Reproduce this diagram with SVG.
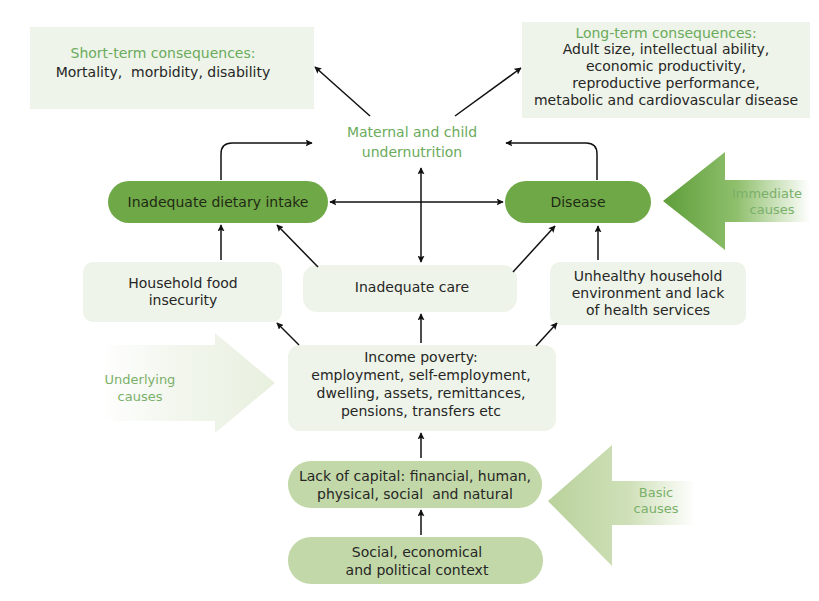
<svg xmlns="http://www.w3.org/2000/svg" width="819" height="601" viewBox="0 0 819 601">
<defs>
<marker id="ah" viewBox="0 0 10 10" refX="9" refY="5" markerWidth="7" markerHeight="7" orient="auto-start-reverse" markerUnits="userSpaceOnUse">
<path d="M0,0 L10,5 L0,10 L2,5 z" fill="#111"/>
</marker>
<linearGradient id="gImm" x1="0" y1="0" x2="1" y2="0">
<stop offset="0" stop-color="#5e9e3a"/>
<stop offset="0.5" stop-color="#8fbf6c"/>
<stop offset="1" stop-color="#ffffff"/>
</linearGradient>
<linearGradient id="gBasic" x1="0" y1="0" x2="1" y2="0">
<stop offset="0" stop-color="#b9d29c"/>
<stop offset="0.55" stop-color="#cfe0b8"/>
<stop offset="1" stop-color="#ffffff"/>
</linearGradient>
<linearGradient id="gUnder" x1="0" y1="0" x2="1" y2="0">
<stop offset="0" stop-color="#ffffff"/>
<stop offset="0.4" stop-color="#f3f7ef"/>
<stop offset="1" stop-color="#e8f0df"/>
</linearGradient>
</defs>
<style>
text{font-family:"DejaVu Sans","Liberation Sans",sans-serif;font-size:14px;text-anchor:middle;fill:#262626}
.g{fill:#6aab5c}
.gc{fill:#7ab06a;font-size:13px}
.pale{fill:#eef4e9}
.dark{fill:#6fa847}
.mid{fill:#c3d8a8}
.c{fill:none;stroke:#111;stroke-width:1.5;marker-end:url(#ah)}
.cb{fill:none;stroke:#111;stroke-width:1.5;marker-end:url(#ah);marker-start:url(#ah)}
.dt{fill:#1f2a14}
</style>
<rect width="819" height="601" fill="#ffffff"/>

<g id="short-term">
<rect class="pale" x="30" y="27" width="284" height="82"/>
<text class="g" x="163" y="58">Short-term consequences:</text>
<text x="163" y="77">Mortality,&#160; morbidity, disability</text>
</g>

<g id="long-term">
<rect class="pale" x="522" y="22" width="288" height="96"/>
<text class="g" x="666" y="38">Long-term consequences:</text>
<text x="666" y="54">Adult size, intellectual ability,</text>
<text x="666" y="71">economic productivity,</text>
<text x="666" y="88">reproductive performance,</text>
<text x="666" y="105">metabolic and cardiovascular disease</text>
</g>

<g id="undernutrition">
<text class="g" x="412" y="137">Maternal and child</text>
<text class="g" x="412" y="157">undernutrition</text>
</g>

<g id="dietary">
<rect class="dark" x="108" y="181" width="220" height="42" rx="21"/>
<text class="dt" x="218" y="207">Inadequate dietary intake</text>
</g>

<g id="disease">
<rect class="dark" x="505" y="181" width="146" height="42" rx="21"/>
<text class="dt" x="578" y="207">Disease</text>
</g>

<g id="immediate">
<path d="M663,201 L725,152 L725,180 L810,180 L810,222 L725,222 L725,250 Z" fill="url(#gImm)"/>
<text class="gc" x="767" y="198">Immediate</text>
<text class="gc" x="772" y="214">causes</text>
</g>

<g id="household">
<rect class="pale" x="83" y="262" width="199" height="60" rx="10"/>
<text x="183" y="288">Household food</text>
<text x="183" y="305">insecurity</text>
</g>

<g id="care">
<rect class="pale" x="303" y="265" width="214" height="47" rx="14"/>
<text x="412" y="292">Inadequate care</text>
</g>

<g id="environment">
<rect class="pale" x="550" y="262" width="196" height="63" rx="10"/>
<text x="648" y="281">Unhealthy household</text>
<text x="648" y="298">environment and lack</text>
<text x="648" y="315">of health services</text>
</g>

<g id="income">
<rect class="pale" x="288" y="345" width="268" height="86" rx="12"/>
<text x="421" y="362">Income poverty:</text>
<text x="421" y="380">employment, self-employment,</text>
<text x="421" y="398">dwelling, assets, remittances,</text>
<text x="421" y="416">pensions, transfers etc</text>
</g>

<g id="underlying">
<path d="M100,345 L215,345 L215,333 L275,383 L215,433 L215,421 L100,421 Z" fill="url(#gUnder)"/>
<text class="gc" x="140" y="384">Underlying</text>
<text class="gc" x="140" y="401">causes</text>
</g>

<g id="capital">
<rect class="mid" x="288" y="461" width="254" height="47" rx="23"/>
<text x="415" y="481">Lack of capital: financial, human,</text>
<text x="415" y="499">physical, social&#160; and natural</text>
</g>

<g id="context">
<rect class="mid" x="288" y="537" width="255" height="47" rx="23"/>
<text x="417" y="557">Social, economical</text>
<text x="417" y="575">and political context</text>
</g>

<g id="basic">
<path d="M548,501 L612,445 L612,481 L695,481 L695,525 L612,525 L612,566 Z" fill="url(#gBasic)"/>
<text class="gc" x="656" y="497">Basic</text>
<text class="gc" x="656" y="513">causes</text>
</g>

<g id="connectors">
<line class="c" x1="370" y1="116" x2="315" y2="67"/>
<line class="c" x1="455" y1="116" x2="521" y2="68"/>
<path class="c" d="M221,180 L221,154 Q221,143 232,143 L312,143"/>
<path class="c" d="M597,180 L597,154 Q597,143 586,143 L506,143"/>
<line class="cb" x1="330" y1="202" x2="503" y2="202"/>
<line class="cb" x1="421" y1="168" x2="421" y2="262"/>
<line class="c" x1="221" y1="260" x2="221" y2="225"/>
<line class="c" x1="318" y1="267" x2="277" y2="225"/>
<line class="c" x1="513" y1="272" x2="555" y2="226"/>
<line class="c" x1="598" y1="260" x2="598" y2="226"/>
<line class="c" x1="299" y1="345" x2="277" y2="323"/>
<line class="c" x1="421" y1="343" x2="421" y2="314"/>
<line class="c" x1="536" y1="346" x2="557" y2="323"/>
<line class="c" x1="421" y1="458" x2="421" y2="433"/>
<line class="c" x1="421" y1="535" x2="421" y2="510"/>
</g>
</svg>
